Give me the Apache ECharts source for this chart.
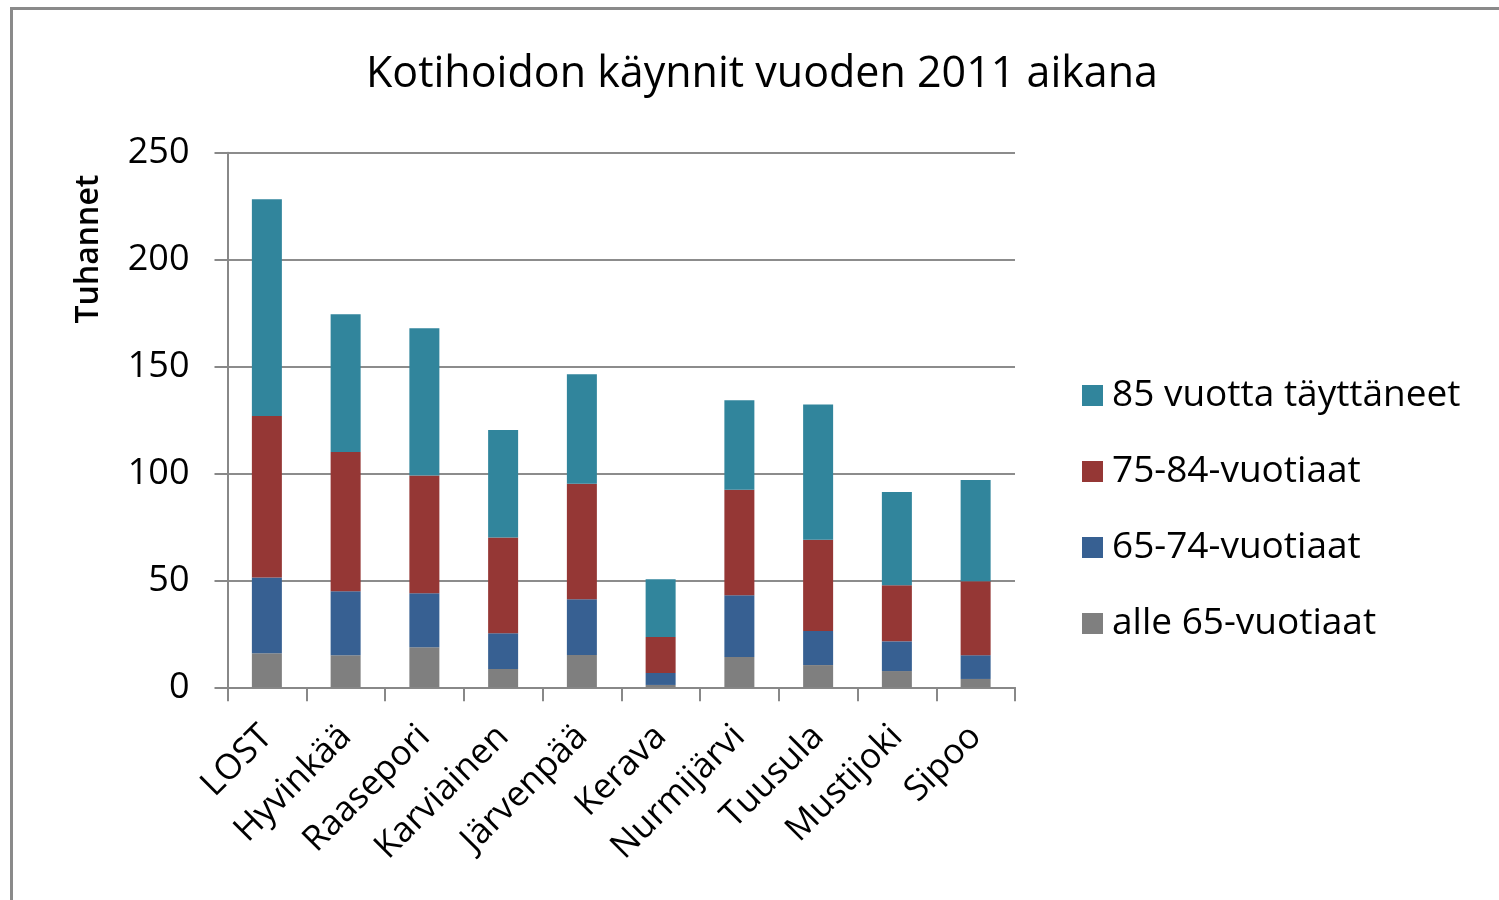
<!DOCTYPE html>
<html>
<head>
<meta charset="utf-8">
<script src="https://cdn.jsdelivr.net/npm/echarts@6/dist/echarts.min.js"></script>
<style>
html,body{margin:0;padding:0;background:#fff;}
#chart{width:1499px;height:900px;}
</style>
</head>
<body>
<div id="chart"></div>
<script>
const categories = ['LOST','Hyvinkää','Raasepori','Karviainen','Järvenpää','Kerava','Nurmijärvi','Tuusula','Mustijoki','Sipoo'];
const seriesNames = ['alle 65-vuotiaat','65-74-vuotiaat','75-84-vuotiaat','85 vuotta täyttäneet'];
const under65 = [15.9, 15.0, 18.7, 8.6, 15.1, 1.1, 14.2, 10.4, 7.6, 3.9];
const age65to74 = [35.5, 29.9, 25.3, 16.7, 26.1, 5.6, 28.8, 15.9, 13.9, 11.1];
const age75to84 = [75.5, 65.1, 55.0, 44.7, 54.0, 16.8, 49.4, 42.7, 26.2, 34.6];
const age85plus = [101.3, 64.4, 68.9, 50.3, 51.2, 27.0, 41.8, 63.3, 43.6, 47.3];
const yTicks = [0, 50, 100, 150, 200, 250];
const yAxisTitle = 'Tuhannet';
const colors = ['#7f7f7f', '#376092', '#953735', '#31859c'];
const FONT = 'Open Sans';

const values = [under65, age65to74, age75to84, age85plus];
const chart = echarts.init(document.getElementById('chart'));
chart.setOption({
  animation: false,
  backgroundColor: '#fff',
  textStyle: { fontFamily: FONT },
  graphic: [{
    type: 'rect',
    shape: { x: 11.5, y: 8.5, width: 1700, height: 1100 },
    style: { fill: 'none', stroke: '#8a8a8a', lineWidth: 3 },
    silent: true
  }, {
    type: 'text',
    x: 89, y: 249,
    rotation: Math.PI / 2,
    style: { text: yAxisTitle, fontFamily: FONT, fontSize: 32, fontWeight: 600, fill: '#000',
      align: 'center', verticalAlign: 'middle' },
    silent: true
  }],
  title: {
    text: 'Kotihoidon käynnit vuoden 2011 aikana',
    left: 757, textAlign: 'center', top: 48,
    textStyle: { fontFamily: FONT, fontSize: 43, fontWeight: 'normal', color: '#000' }
  },
  legend: {
    orient: 'vertical',
    left: 1082, top: 377,
    padding: 0,
    itemWidth: 21, itemHeight: 21, itemGap: 39,
    data: [seriesNames[3], seriesNames[2], seriesNames[1], seriesNames[0]],
    textStyle: { fontFamily: FONT, fontSize: 37, lineHeight: 36, color: '#000', padding: [0,0,0,4] },
    icon: 'rect'
  },
  grid: { left: 227.5, right: 484, top: 152.7, bottom: 212.7, containLabel: false },
  xAxis: {
    type: 'category',
    data: categories,
    boundaryGap: true,
    axisLine: { lineStyle: { color: '#888', width: 2 } },
    axisTick: { show: true, length: 14, alignWithLabel: false, lineStyle: { color: '#888', width: 2 } },
    axisLabel: { rotate: 45, margin: 44, fontFamily: FONT, fontSize: 35, color: '#000', interval: 0 }
  },
  yAxis: {
    type: 'value',
    min: 0, max: 250, interval: 50,
    axisLine: { show: true, lineStyle: { color: '#888', width: 2 } },
    axisTick: { show: true, length: 13, lineStyle: { color: '#888', width: 2 } },
    axisLabel: { margin: 38, fontFamily: FONT, fontSize: 36, color: '#000',
      formatter: v => yTicks.includes(v) ? String(v) : '' },
    splitLine: { show: true, lineStyle: { color: '#8c8c8c', width: 2 } }
  },
  series: seriesNames.map((n, i) => ({
    name: n,
    type: 'bar',
    stack: 'total',
    barWidth: 30,
    data: values[i],
    itemStyle: { color: colors[i] }
  }))
});
</script>
</body>
</html>
